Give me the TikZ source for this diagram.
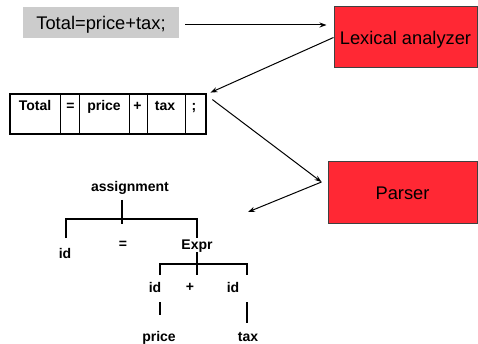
\documentclass[tikz,border=0pt]{standalone}
\usepackage{fontspec}
\setmainfont{Liberation Sans}
\usetikzlibrary{arrows.meta,calc}
\definecolor{boxred}{RGB}{255,40,52}
\definecolor{boxgray}{RGB}{204,204,204}
\begin{document}
\begin{tikzpicture}[x=1pt,y=-1pt,
  big/.style={font=\fontsize{18.3}{20}\selectfont, text height=13.1pt, text depth=0pt},
  sm/.style={font=\fontsize{14}{16}\selectfont\bfseries, inner sep=0pt},
  redbox/.style={draw=black!75, line width=1pt, fill=boxred, inner sep=0pt, big},
  arr/.style={line width=1pt, -{Stealth[length=7pt,width=5pt]}},
  tl/.style={line width=1.4pt},
  cell/.style={draw, line width=0.8pt, inner sep=0pt, minimum height=40pt}]
\useasboundingbox (0,0) rectangle (478,344);

% source text and boxes
\node[fill=boxgray, minimum width=156pt, minimum height=31pt, inner sep=0pt, big] (src) at (101,22.5) {Total=price+tax;};
\node[redbox, minimum width=143pt, minimum height=61pt] (lex) at (405.5,37.5) {Lexical analyzer};
\node[redbox, minimum width=149pt, minimum height=62pt] (parser) at (402.5,193) {Parser};

% token table
\node[cell, minimum width=50pt] (c1) at (35,114) {};
\node[cell, minimum width=19pt] (c2) at (69.5,114) {};
\node[cell, minimum width=50pt] (c3) at (104,114) {};
\node[cell, minimum width=18pt] (c4) at (138,114) {};
\node[cell, minimum width=38pt] (c5) at (166,114) {};
\node[cell, minimum width=21pt] (c6) at (195.5,114) {};
\draw[line width=2pt] (c1.north west) rectangle (c6.south east);
\node[sm, anchor=base] (t1) at (35,111) {Total};
\node[sm, anchor=base] (t2) at (70.5,111) {=};
\node[sm, anchor=base] (t3) at (104,111) {price};
\node[sm, anchor=base] (t4) at (137.5,111) {+};
\node[sm, anchor=base] (t5) at (165,111) {tax};
\node[sm, anchor=base] (t6) at (194,111) {;};

% connectors
\coordinate (pin) at ([xshift=-6pt,yshift=11pt]parser.west);
\coordinate (tip) at (248,212);
\draw[arr] ([xshift=6pt,yshift=-2.5pt]src.east) -- ([xshift=-7pt,yshift=12.5pt]lex.west);
\draw[arr] (lex.west) -- ([xshift=4pt,yshift=1pt]c6.north east);
\draw[arr] ([xshift=6pt,yshift=-6pt]c6.north east) -- (pin);
\draw[arr] (pin) -- (tip);

% parse tree
\node[sm, anchor=base] (assign) at (130,192) {assignment};
\node[sm, anchor=base] (id1) at (65,258) {id};
\node[sm] (eq) at (123,245) {=};
\node[sm, anchor=base] (expr) at (197,249) {Expr};
\node[sm, anchor=base] (id2) at (155,292) {id};
\node[sm] (plus) at (190,287) {+};
\node[sm, anchor=base] (id3) at (233,292) {id};
\node[sm, anchor=base] (price) at (159,341) {price};
\node[sm, anchor=base] (tax) at (248,341) {tax};

\draw[tl] (122,200) -- (122,224);
\draw[tl] (66,238) -- (66,219) -- (197,219) -- (197,238);
\draw[tl] (197,252) -- (197,275);
\draw[tl] (160,275) -- (160,264) -- (247,264) -- (247,275);
\draw[tl] (160,302) -- (160,315);
\draw[tl] (247,302) -- (247,323);
\end{tikzpicture}
\end{document}
